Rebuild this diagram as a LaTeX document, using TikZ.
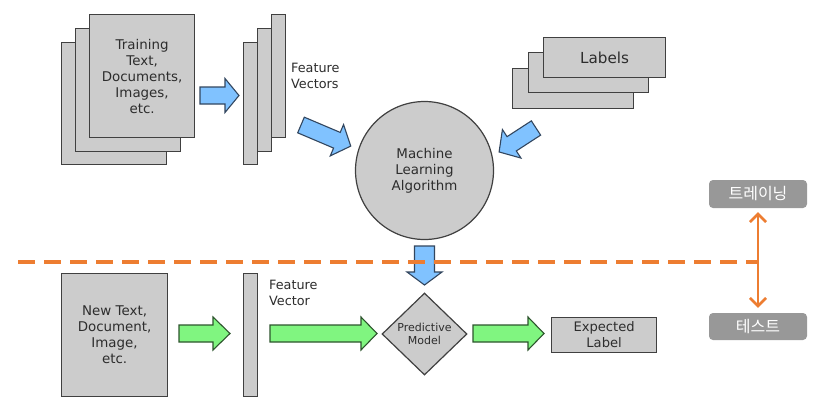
\documentclass[tikz,border=0pt]{standalone}
\usepackage{fontspec}
\setmainfont{DejaVu Sans}
\newfontfamily\krfont{Noto Sans CJK KR}
\usetikzlibrary{arrows.meta,shapes.geometric}
\definecolor{boxgray}{RGB}{204,204,204}
\definecolor{edgegray}{RGB}{64,64,64}
\definecolor{txtgray}{RGB}{45,45,45}
\definecolor{bluefill}{RGB}{128,194,255}
\definecolor{blueedge}{RGB}{50,70,95}
\definecolor{greenfill}{RGB}{128,245,128}
\definecolor{greenedge}{RGB}{45,85,45}
\definecolor{orng}{RGB}{237,125,49}
\definecolor{krgray}{RGB}{152,152,152}
\newcommand{\barrow}[8]{% style, x, y, angle, length, headlength, halfbody, halfhead
\begin{scope}[shift={(#2,#3)},rotate=#4]
\draw[#1] (0,-#7) -- ({#5-#6},-#7) -- ({#5-#6},-#8) -- (#5,0) -- ({#5-#6},#8) -- ({#5-#6},#7) -- (0,#7) -- cycle;
\end{scope}}
\tikzset{
  page/.style={draw=edgegray, fill=boxgray, line width=1.2pt, anchor=north west, inner sep=0pt, text=txtgray, align=center},
  maintext/.style={font=\fontsize{13.4}{16}\selectfont},
  bluearr/.style={draw=blueedge, fill=bluefill, line width=1.1pt, line join=miter},
  greenarr/.style={draw=greenedge, fill=greenfill, line width=1.1pt, line join=miter},
  lbl/.style={anchor=west, align=left, text=txtgray, inner sep=0pt, font=\fontsize{12.8}{16}\selectfont},
  krbox/.style={fill=krgray, rounded corners=4pt, text=white, minimum width=98pt, inner sep=0pt, font=\krfont\fontsize{16}{18}\selectfont},
}
\begin{document}
\begin{tikzpicture}[x=1pt,y=-1pt]
\useasboundingbox[fill=white] (0,0) rectangle (822,408);
% training documents
\node[page, minimum width=105pt, minimum height=122pt] (tdoc3) at (61,42) {};
\node[page, minimum width=105pt, minimum height=123pt] (tdoc2) at (75,28) {};
\node[page, minimum width=105pt, minimum height=123pt, maintext] (tdoc1) at (89,14) {Training\\Text,\\Documents,\\Images,\\etc.};
% feature vectors
\node[page, minimum width=14pt, minimum height=122pt] (fv3) at (243,42) {};
\node[page, minimum width=14pt, minimum height=123pt] (fv2) at (257,28) {};
\node[page, minimum width=14pt, minimum height=123pt] (fv1) at (271,14) {};
\node[lbl] (fvlbl) at (291,76) {Feature\\Vectors};
% labels
\node[page, minimum width=121pt, minimum height=40pt] (lab3) at (512,68) {};
\node[page, minimum width=120pt, minimum height=40pt] (lab2) at (528,52) {};
\node[page, minimum width=122pt, minimum height=40pt, font=\fontsize{15.2}{18}\selectfont] (lab1) at (543,37) {Labels};
% algorithm
\node[circle, draw=edgegray, fill=boxgray, line width=1.2pt, minimum size=138pt, inner sep=0pt, align=center, text=txtgray, maintext] (mla) at (424.5,170.5) {Machine\\Learning\\Algorithm};
% blue arrows
\barrow{bluearr}{200}{95.5}{0}{39}{14}{8.5}{17}
\barrow{bluearr}{301}{125}{-23}{54}{15}{8.5}{17}
\barrow{bluearr}{536}{128}{-147}{44}{15}{8.5}{17}
\barrow{bluearr}{424.5}{246}{-90}{39}{13}{10}{17.5}
% divider
\coordinate (dl) at (18,262);
\coordinate (dr) at (759,262);
\draw[orng, line width=3.5pt, dash pattern=on 17pt off 9pt] (dl) -- (dr);
% korean boxes
\node[krbox, minimum height=28pt] (train) at (758,194) {트레이닝};
\node[krbox, minimum height=27pt] (test) at (758,326.5) {테스트};
\draw[orng, line width=2.6pt, {Straight Barb[length=8pt,width=16pt,line width=2.6pt]}-{Straight Barb[length=8pt,width=16pt,line width=2.6pt]}, shorten <=4pt, shorten >=5pt] (train.south) -- (test.north);
% test part
\node[page, minimum width=106pt, minimum height=123pt, maintext] (ndoc) at (61,273) {New Text,\\Document,\\Image,\\etc.};
\node[page, minimum width=14pt, minimum height=123pt] (nfv) at (243,273) {};
\node[lbl] (nfvlbl) at (269,293) {Feature\\Vector};
\node[diamond, draw=edgegray, fill=boxgray, line width=1.2pt, minimum width=85pt, minimum height=82pt, inner sep=0pt, align=center, text=txtgray, font=\fontsize{11}{13}\selectfont] (pm) at (424.5,334) {Predictive\\Model};
\node[page, minimum width=105pt, minimum height=35pt, font=\fontsize{13.1}{16}\selectfont] (exp) at (551,317) {Expected\\Label};
% green arrows
\barrow{greenarr}{179}{333.5}{0}{51}{17}{8.5}{16.5}
\barrow{greenarr}{270}{333.5}{0}{107}{16}{8.5}{16.5}
\barrow{greenarr}{473}{333.5}{0}{71}{16}{8.5}{16.5}
\end{tikzpicture}
\end{document}
